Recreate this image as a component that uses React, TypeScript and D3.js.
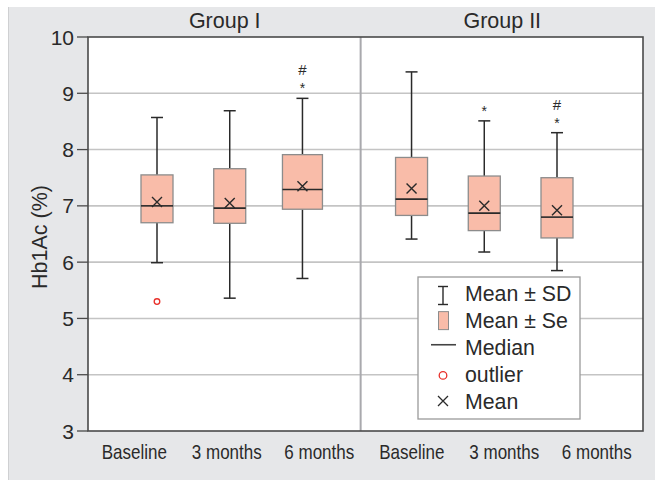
import React from "react";
import * as d3 from "d3";

const groups = ["Group I", "Group II"];
const timepoints = ["Baseline", "3 months", "6 months"];
const categories = ["G1 Baseline", "G1 3 months", "G1 6 months", "G2 Baseline", "G2 3 months", "G2 6 months"];
const categoryLabels = ["Baseline", "3 months", "6 months", "Baseline", "3 months", "6 months"];
const categoryGroup = [0, 0, 0, 1, 1, 1];
const seHigh = [7.55, 7.66, 7.91, 7.86, 7.53, 7.5];
const seLow = [6.7, 6.69, 6.94, 6.83, 6.56, 6.43];
const medians = [7.0, 6.96, 7.29, 7.12, 6.87, 6.8];
const means = [7.07, 7.05, 7.35, 7.31, 7.0, 6.92];
const sdHigh = [8.57, 8.69, 8.91, 9.38, 8.51, 8.3];
const sdLow = [5.99, 5.36, 5.71, 6.41, 6.18, 5.85];
const outliers: number[][] = [[5.3], [], [], [], [], []];
const starMarks = [false, false, true, false, true, true];
const hashMarks = [false, false, true, false, false, true];
const yTicks = [3, 4, 5, 6, 7, 8, 9, 10];
const legendItems = ["Mean ± SD", "Mean ± Se", "Median", "outlier", "Mean"];

const W = 655;
const H = 480;
const M = { left: 88, right: 643, top: 37, bottom: 431 };
const FONT = "'Liberation Sans', Arial, Helvetica, sans-serif";
const BOX_FILL = "#f9bca9";
const BOX_STROKE = "#8c8c8c";
const INK = "#2a2a2a";
const GRID = "#c4c4c4";

export default function App() {
  const y = d3.scaleLinear().domain([3, 10]).range([M.bottom, M.top]);
  // box positions: slots with a half-step gap between groups
  const xl = d3.scaleLinear().domain([0, 5.5]).range([157, 557]);
  const slot = (i: number) => i + (categoryGroup[i] === 1 ? 0.5 : 0);
  const bx = (i: number) => xl(slot(i));
  const xb = d3.scaleBand<string>().domain(categories).range([M.left, M.right]);
  const xg = d3.scaleBand<string>().domain(groups).range([M.left, M.right]);
  const dividerX = xl(2.8);
  const boxW = (i: number) => (i === 2 ? 40 : 32);
  const capW = 12;

  const legX = 418, legY = 277, legW = 162, legH = 142;
  const legRow = d3.scaleLinear().domain([0, 4]).range([legY + 23.5, legY + 132]);
  const symX = 443;

  return (
    <svg width={W} height={H} style={{ position: "absolute", left: 0, top: 0 }} fontFamily={FONT}>
      <rect x={8} y={7} width={W - 8} height={H - 7} fill="#e6e7e9" />
      <line x1={8.5} y1={7} x2={8.5} y2={H} stroke="#cfd0d2" />
      <rect x={M.left} y={M.top} width={M.right - M.left} height={M.bottom - M.top} fill="#fff" />
      {yTicks.filter((t) => t > 3 && t < 10).map((t) => (
        <line key={"g" + t} x1={M.left} x2={M.right} y1={y(t)} y2={y(t)} stroke={GRID} strokeWidth={1.6} />
      ))}
      <line x1={dividerX} x2={dividerX} y1={M.top} y2={M.bottom} stroke="#a9a9ad" strokeWidth={2} />
      {/* frame */}
      <rect x={M.left} y={M.top} width={M.right - M.left} height={M.bottom - M.top} fill="none" stroke="#4a4a4a" strokeWidth={1.6} />
      {/* y ticks */}
      {yTicks.map((t) => (
        <g key={"t" + t}>
          <line x1={M.left - 11} x2={M.left} y1={y(t)} y2={y(t)} stroke="#4a4a4a" strokeWidth={1.3} />
          <text x={M.left - 14} y={y(t)} dy="0.36em" textAnchor="end" fontSize={21} fill={INK}>{t}</text>
        </g>
      ))}
      <text transform={`translate(47,${(M.top + M.bottom) / 2 + 3}) rotate(-90)`} textAnchor="middle" fontSize={21.5} fill={INK}>Hb1Ac (%)</text>
      {/* group titles */}
      {groups.map((g) => (
        <text key={g} x={(xg(g) as number) + xg.bandwidth() / 2 - 2} y={27.5} textAnchor="middle" fontSize={21.5} fill={INK}>{g}</text>
      ))}
      {/* x labels */}
      {categories.map((c, i) => (
        <text key={c} transform={`translate(${(xb(c) as number) + xb.bandwidth() / 2},458.5) scale(0.81,1)`} textAnchor="middle" fontSize={21} fill={INK}>{categoryLabels[i]}</text>
      ))}
      {/* boxes */}
      {categories.map((c, i) => {
        const cx = bx(i);
        const w = boxW(i);
        return (
          <g key={"b" + c}>
            <line x1={cx} x2={cx} y1={y(sdHigh[i])} y2={y(seHigh[i])} stroke={INK} strokeWidth={1.5} />
            <line x1={cx} x2={cx} y1={y(seLow[i])} y2={y(sdLow[i])} stroke={INK} strokeWidth={1.5} />
            <line x1={cx - capW / 2} x2={cx + capW / 2} y1={y(sdHigh[i])} y2={y(sdHigh[i])} stroke={INK} strokeWidth={1.5} />
            <line x1={cx - capW / 2} x2={cx + capW / 2} y1={y(sdLow[i])} y2={y(sdLow[i])} stroke={INK} strokeWidth={1.5} />
            <rect x={cx - w / 2} y={y(seHigh[i])} width={w} height={y(seLow[i]) - y(seHigh[i])} fill={BOX_FILL} stroke={BOX_STROKE} strokeWidth={1.3} />
            <line x1={cx - w / 2} x2={cx + w / 2} y1={y(medians[i])} y2={y(medians[i])} stroke={INK} strokeWidth={1.6} />
            <path d={`M${cx - 5},${y(means[i]) - 5}L${cx + 5},${y(means[i]) + 5}M${cx + 5},${y(means[i]) - 5}L${cx - 5},${y(means[i]) + 5}`} stroke={INK} strokeWidth={1.4} fill="none" />
            {outliers[i].map((o, k) => (
              <circle key={k} cx={cx} cy={y(o)} r={2.8} fill="#fff" stroke="#e8302a" strokeWidth={1.3} />
            ))}
            {starMarks[i] && (
              <text x={cx} y={y(sdHigh[i]) - 5} textAnchor="middle" fontSize={14} fill={INK}>*</text>
            )}
            {hashMarks[i] && (
              <text x={cx} y={y(sdHigh[i]) - 23} textAnchor="middle" fontSize={15} fill={INK}>#</text>
            )}
          </g>
        );
      })}
      {/* legend */}
      <rect x={legX} y={legY} width={legW} height={legH} fill="#fff" stroke="#9a9a9a" strokeWidth={1.3} />
      {legendItems.map((t, i) => (
        <text key={t} x={465} y={legRow(i)} fontSize={21.3} fill={INK}>{t}</text>
      ))}
      <g stroke={INK} strokeWidth={1.4}>
        <line x1={symX} x2={symX} y1={legRow(0) - 14} y2={legRow(0) + 4} />
        <line x1={symX - 5} x2={symX + 5} y1={legRow(0) - 14} y2={legRow(0) - 14} />
        <line x1={symX - 5} x2={symX + 5} y1={legRow(0) + 4} y2={legRow(0) + 4} />
      </g>
      <rect x={symX - 4.5} y={legRow(1) - 16} width={10} height={18} fill={BOX_FILL} stroke={BOX_STROKE} strokeWidth={1} />
      <line x1={symX - 12} x2={symX + 13} y1={legRow(2) - 10} y2={legRow(2) - 10} stroke="#444" strokeWidth={1.6} />
      <circle cx={symX} cy={legRow(3) - 6.5} r={3.8} fill="#fff" stroke="#e8302a" strokeWidth={1.3} />
      <path d={`M${symX - 5},${legRow(4) - 13}L${symX + 5},${legRow(4) - 3}M${symX + 5},${legRow(4) - 13}L${symX - 5},${legRow(4) - 3}`} stroke={INK} strokeWidth={1.3} fill="none" />
    </svg>
  );
}
